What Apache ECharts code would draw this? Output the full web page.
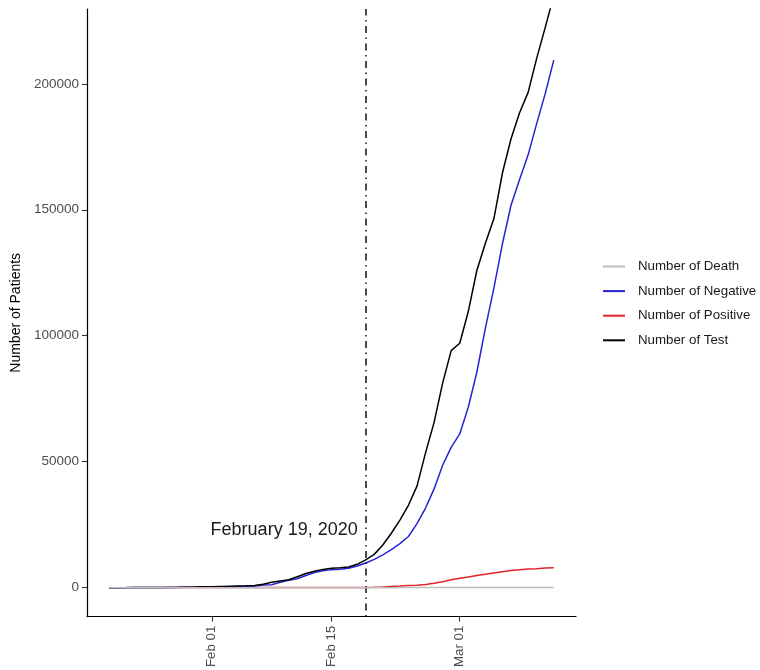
<!DOCTYPE html>
<html>
<head>
<meta charset="utf-8">
<script src="https://cdn.jsdelivr.net/npm/echarts@6/dist/echarts.min.js"></script>
<style>
  html, body { margin: 0; padding: 0; background: #ffffff; }
  #chart { width: 760px; height: 670px; }
</style>
</head>
<body>
<div id="chart"></div>
<script>
// ---- Data (daily, 2020-01-20 .. 2020-03-12) ----
const firstDate = '2020-01-20';
const seriesNames = ['Number of Death', 'Number of Negative', 'Number of Positive', 'Number of Test'];

const numTest = [
  1, 1, 4, 22, 27, 27, 51, 61, 116, 187, 246, 312,
  371, 429, 490, 607, 714, 885, 1352, 2097, 2598, 3110, 4325, 5624, 6511, 7242, 7734, 7919, 8171, 9265,
  11000, 13200, 16900, 21600, 26800, 32700, 40300, 53500, 65600, 81200, 94100,
  97000, 109600, 125900, 136700, 146500, 164700, 178200, 188500, 196600, 210100, 222400, 235000
];
const numNegative = [
  0, 0, 3, 21, 25, 25, 47, 56, 97, 155, 199, 245,
  289, 327, 414, 462, 522, 693, 1001, 1134, 2164, 2939, 3534, 4811, 5979, 6684, 7148, 7303, 7700, 8600,
  9800, 11200, 13000, 15100, 17500, 20300, 25400, 31600, 39200, 48600, 55700,
  61000, 71600, 85500, 103000, 119000, 136600, 151800, 162000, 171800, 184200, 196100, 209400
];
const numPositive = [
  1, 1, 1, 1, 2, 2, 3, 4, 4, 4, 4, 11,
  12, 15, 15, 16, 18, 23, 24, 24, 25, 27, 28, 28, 28, 28, 28, 29, 30, 31,
  51, 104, 204, 433, 602, 833, 977, 1261, 1766, 2337, 3150,
  3736, 4212, 4812, 5328, 5766, 6284, 6767, 7134, 7382, 7513, 7755, 7869
];
const numDeath = [
  0, 0, 0, 0, 0, 0, 0, 0, 0, 0, 0, 0,
  0, 0, 0, 0, 0, 0, 0, 0, 0, 0, 0, 0, 0, 0, 0, 0, 0, 0,
  0, 1, 2, 2, 6, 8, 10, 12, 13, 13, 16,
  17, 28, 28, 35, 35, 42, 44, 50, 53, 54, 60, 66
];

const xTickDates = ['2020-02-01', '2020-02-15', '2020-03-01'];
const xTickLabels = ['Feb 01', 'Feb 15', 'Mar 01'];
const yTicks = [0, 50000, 100000, 150000, 200000];
const markerDate = '2020-02-19';
const markerText = 'February 19, 2020';
const markerTextY = 22900;

// ---- Helpers: x is measured in days since the first date ----
const DAY = 86400000;
function utc(s) { const p = s.split('-').map(Number); return Date.UTC(p[0], p[1] - 1, p[2]); }
const t0 = utc(firstDate);
const dayOf = s => Math.round((utc(s) - t0) / DAY);
const dayIdx = numTest.map((_, i) => i);
const pairs = arr => arr.map((v, i) => [dayIdx[i], v]);
const tickDays = xTickDates.map(dayOf);
const dFirst = dayIdx[0], dLast = dayIdx[dayIdx.length - 1];
const span = dLast - dFirst;

const FONT = '"Liberation Sans", Arial, Helvetica, sans-serif';

const chart = echarts.init(document.getElementById('chart'), null, { renderer: 'canvas' });

const option = {
  backgroundColor: '#ffffff',
  animation: false,
  textStyle: { fontFamily: FONT },
  grid: { left: 87, right: 184, top: 9, bottom: 51, containLabel: false },
  legend: {
    orient: 'vertical',
    left: 603,
    top: 260,
    padding: 0,
    data: seriesNames,
    itemWidth: 22,
    itemHeight: 14,
    itemGap: 11.6,
    icon: 'path://M0,6 L22,6 L22,8 L0,8 Z',
    textStyle: { fontSize: 13.3, color: '#1a1a1a', fontFamily: FONT, padding: [0, 0, 0, 8] }
  },
  xAxis: {
    type: 'value',
    min: dFirst - span * 0.05,
    max: dLast + span * 0.05,
    splitLine: { show: false },
    axisLine: { show: true, onZero: false, lineStyle: { color: '#000', width: 1.2 } },
    axisTick: { show: true, customValues: tickDays, length: 5, lineStyle: { color: '#333', width: 1.1 } },
    axisLabel: {
      customValues: tickDays,
      rotate: 90,
      margin: 9,
      fontSize: 13.3,
      color: '#4d4d4d',
      fontFamily: FONT,
      padding: [8, 0, 0, 0],
      formatter: v => { const k = tickDays.indexOf(Math.round(v)); return k >= 0 ? xTickLabels[k] : ''; }
    }
  },
  yAxis: {
    type: 'value',
    min: -11500,
    max: 229700,
    name: 'Number of Patients',
    nameLocation: 'middle',
    nameGap: 58,
    nameTextStyle: { fontSize: 14, color: '#000', fontFamily: FONT },
    splitLine: { show: false },
    axisLine: { show: true, onZero: false, lineStyle: { color: '#000', width: 1.2 } },
    axisTick: { show: true, customValues: yTicks, length: 5, lineStyle: { color: '#333', width: 1.1 } },
    axisLabel: {
      customValues: yTicks, margin: 8, fontSize: 13.5, color: '#4d4d4d', fontFamily: FONT,
      formatter: v => String(v)
    }
  },
  series: [
    {
      name: 'Number of Positive', type: 'line', data: pairs(numPositive),
      symbol: 'none', z: 2,
      lineStyle: { color: '#e3212b', width: 1.5 }, itemStyle: { color: '#e3212b' }
    },
    {
      name: 'Number of Negative', type: 'line', data: pairs(numNegative),
      symbol: 'none', z: 3,
      lineStyle: { color: '#2424d6', width: 1.5 }, itemStyle: { color: '#2424d6' }
    },
    {
      name: 'Number of Test', type: 'line', data: pairs(numTest),
      symbol: 'none', z: 4,
      lineStyle: { color: '#000000', width: 1.5 }, itemStyle: { color: '#000000' },
      markLine: {
        silent: true, symbol: 'none',
        lineStyle: { color: '#111', width: 1.5, type: [1.5, 4.5, 7, 4.5] },
        label: { show: false },
        data: [{ xAxis: dayOf(markerDate) }]
      },
      markPoint: {
        silent: true,
        symbol: 'circle', symbolSize: 0,
        label: {
          show: true, position: 'left', distance: 8,
          fontSize: 18, color: '#1a1a1a', fontFamily: FONT,
          formatter: markerText
        },
        data: [{ coord: [dayOf(markerDate), markerTextY] }]
      }
    },
    {
      name: 'Number of Death', type: 'line', data: pairs(numDeath),
      symbol: 'none', z: 5,
      lineStyle: { color: '#bebebe', width: 1.5 }, itemStyle: { color: '#bebebe' }
    }
  ]
};
chart.setOption(option);
</script>
</body>
</html>
